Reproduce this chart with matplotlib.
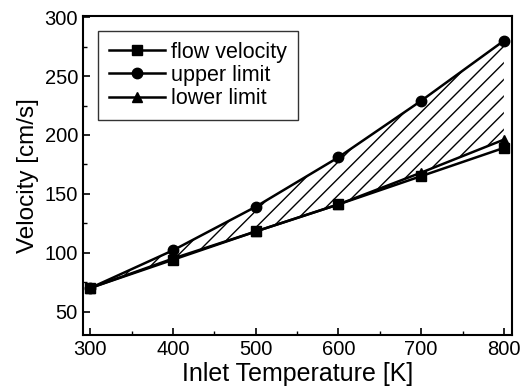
import matplotlib.pyplot as plt
from matplotlib.ticker import MultipleLocator

plt.rcParams['font.family'] = ['Liberation Sans', 'DejaVu Sans']

# Datos
temperature = [300, 400, 500, 600, 700, 800]
flow_velocity = [70, 94, 118, 141, 165, 189]
upper_limit = [70, 102, 139, 181, 229, 280]
lower_limit = [70, 95, 118, 141, 168, 196]

fig = plt.figure(figsize=(5.21, 3.91), dpi=100)
ax = fig.add_axes([0.159, 0.143, 0.824, 0.816])

ax.fill_between(temperature, lower_limit, upper_limit, facecolor='none',
                edgecolor='black', hatch='//', linewidth=0)
ax.plot(temperature, flow_velocity, 'k-s', lw=1.8, ms=7, label='flow velocity')
ax.plot(temperature, upper_limit, 'k-o', lw=1.8, ms=7.5, label='upper limit')
ax.plot(temperature, lower_limit, 'k-^', lw=1.8, ms=7.5, label='lower limit')

ax.set_xlim(291, 810)
ax.set_ylim(30, 301)
ax.xaxis.set_major_locator(MultipleLocator(100))
ax.xaxis.set_minor_locator(MultipleLocator(50))
ax.yaxis.set_major_locator(MultipleLocator(50))
ax.yaxis.set_minor_locator(MultipleLocator(25))
ax.tick_params(which='both', direction='in', labelsize=14.5)
ax.tick_params(which='major', length=5, width=1.2)
ax.tick_params(which='minor', length=3, width=1.0)
for s in ax.spines.values():
    s.set_linewidth(1.5)

ax.set_xlabel('Inlet Temperature [K]', fontsize=18, labelpad=2)
ax.set_ylabel('Velocity [cm/s]', fontsize=17.5, labelpad=4)

leg = ax.legend(loc='upper left', fontsize=15.5, frameon=True, fancybox=False,
                edgecolor='black', handlelength=2.6, labelspacing=0.1,
                borderaxespad=0.7, handletextpad=0.3, borderpad=0.5)
leg.get_frame().set_linewidth(1.0)

plt.savefig('out.png', dpi=100)
